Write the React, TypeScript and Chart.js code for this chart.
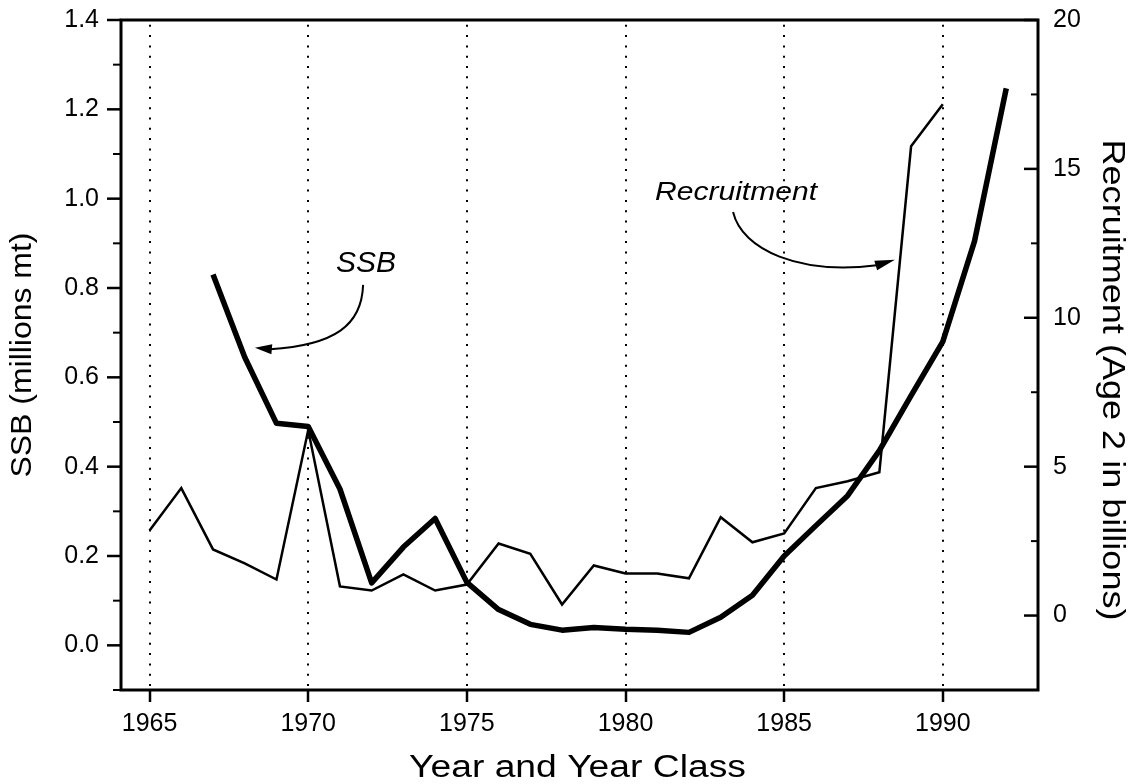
import { useEffect, useRef } from "react";
import { Chart, registerables } from "chart.js";

Chart.register(...registerables);

// ---- data ----
const YEARS = [
  1965, 1966, 1967, 1968, 1969, 1970, 1971, 1972, 1973, 1974, 1975, 1976, 1977, 1978,
  1979, 1980, 1981, 1982, 1983, 1984, 1985, 1986, 1987, 1988, 1989, 1990, 1991, 1992,
];
// SSB, millions mt (left axis)
const SSB = [
  null, null, 0.83, 0.645, 0.497, 0.49, 0.35, 0.14, 0.22, 0.284, 0.141, 0.08, 0.047, 0.034,
  0.04, 0.036, 0.034, 0.029, 0.063, 0.112, 0.2, 0.268, 0.335, 0.436, 0.559, 0.68, 0.905, 1.247,
];
// Recruitment, age 2 in billions (right axis)
const RECRUITMENT = [
  2.86, 4.28, 2.22, 1.75, 1.21, 6.23, 0.98, 0.84, 1.38, 0.84, 1.04, 2.42, 2.07, 0.37,
  1.68, 1.41, 1.41, 1.25, 3.3, 2.46, 2.76, 4.28, 4.51, 4.81, 15.76, 17.17, null, null,
];
const X_TICKS = [1965, 1970, 1975, 1980, 1985, 1990];
const SSB_TICKS = [0, 0.2, 0.4, 0.6, 0.8, 1.0, 1.2, 1.4];
const SSB_MINOR = [-0.1, 0.1, 0.3, 0.5, 0.7, 0.9, 1.1, 1.3];
const REC_TICKS = [0, 5, 10, 15, 20];
const REC_MINOR = [2.5, 7.5, 12.5, 17.5];

const X_TITLE = "Year and Year Class";
const Y_TITLE = "SSB (millions mt)";
const Y1_TITLE = "Recruitment (Age 2 in billions)";
const SSB_LABEL = "SSB";
const REC_LABEL = "Recruitment";

// annotation anchors in data units (x: year, y: left axis)
const SSB_LABEL_POS = { x: 1970.875, y: 0.836 };
const SSB_ARROW = [
  { x: 1971.73, y: 0.807 },
  { x: 1971.69, y: 0.717 },
  { x: 1970.84, y: 0.672 },
  { x: 1968.8, y: 0.663 },
  { x: 1968.32, y: 0.666 },
];
const REC_LABEL_POS = { x: 1980.93, y: 0.997 };
const REC_ARROW = [
  { x: 1983.39, y: 0.97 },
  { x: 1983.67, y: 0.885 },
  { x: 1985.5, y: 0.829 },
  { x: 1987.92, y: 0.851 },
  { x: 1988.49, y: 0.863 },
];

const FONT = "'Liberation Sans', Arial, Helvetica, sans-serif";

function drawStretched(
  ctx: CanvasRenderingContext2D,
  text: string,
  x: number,
  y: number,
  angle: number,
  font: string,
  target: number,
  align: CanvasTextAlign,
  baseline: CanvasTextBaseline
) {
  ctx.save();
  ctx.font = font;
  ctx.textAlign = align;
  ctx.textBaseline = baseline;
  ctx.fillStyle = "#000";
  const w = ctx.measureText(text).width;
  ctx.translate(x, y);
  ctx.rotate(angle);
  ctx.scale(target > 0 ? target / w : 1, 1);
  ctx.fillText(text, 0, 0);
  ctx.restore();
}

function drawArrow(ctx: CanvasRenderingContext2D, pts: { x: number; y: number }[], len: number, half: number) {
  const [p0, c1, c2, p3, tip] = pts;
  ctx.save();
  ctx.strokeStyle = "#000";
  ctx.fillStyle = "#000";
  ctx.lineWidth = 2;
  ctx.setLineDash([]);
  ctx.beginPath();
  ctx.moveTo(p0.x, p0.y);
  ctx.bezierCurveTo(c1.x, c1.y, c2.x, c2.y, p3.x, p3.y);
  ctx.stroke();
  const dx = tip.x - p3.x;
  const dy = tip.y - p3.y;
  const d = Math.hypot(dx, dy) || 1;
  const ux = dx / d;
  const uy = dy / d;
  const bx = tip.x - ux * len;
  const by = tip.y - uy * len;
  ctx.beginPath();
  ctx.moveTo(tip.x, tip.y);
  ctx.lineTo(bx - uy * half, by + ux * half);
  ctx.lineTo(bx + uy * half, by - ux * half);
  ctx.closePath();
  ctx.fill();
  ctx.restore();
}

const framePlugin = {
  id: "framePlugin",
  beforeDatasetsDraw(chart: any) {
    const { ctx, chartArea: a, scales } = chart;
    ctx.save();
    ctx.strokeStyle = "#000";
    ctx.lineWidth = 2;
    ctx.setLineDash([2, 8.3]);
    for (const v of X_TICKS) {
      const x = Math.round(scales.x.getPixelForValue(v));
      ctx.beginPath();
      ctx.moveTo(x, a.bottom - 4);
      ctx.lineTo(x, a.top + 2);
      ctx.stroke();
    }
    ctx.restore();
  },
  afterDatasetsDraw(chart: any) {
    const { ctx, chartArea: a, scales } = chart;
    const sx = scales.x;
    const sy = scales.y;
    const sy1 = scales.y1;
    ctx.save();
    ctx.strokeStyle = "#000";
    ctx.setLineDash([]);
    // frame
    ctx.lineWidth = 3;
    ctx.strokeRect(a.left, a.top, a.right - a.left, a.bottom - a.top);
    // left major ticks (outward)
    ctx.lineWidth = 2.5;
    for (const v of SSB_TICKS) {
      const y = sy.getPixelForValue(v);
      ctx.beginPath();
      ctx.moveTo(a.left - 14, y);
      ctx.lineTo(a.left, y);
      ctx.stroke();
    }
    ctx.lineWidth = 2;
    for (const v of SSB_MINOR) {
      const y = sy.getPixelForValue(v);
      ctx.beginPath();
      ctx.moveTo(a.left - 8, y);
      ctx.lineTo(a.left, y);
      ctx.stroke();
    }
    // right ticks (inward)
    ctx.lineWidth = 2.5;
    for (const v of REC_TICKS) {
      const y = sy1.getPixelForValue(v);
      ctx.beginPath();
      ctx.moveTo(a.right - 14, y);
      ctx.lineTo(a.right, y);
      ctx.stroke();
    }
    ctx.lineWidth = 2;
    for (const v of REC_MINOR) {
      const y = sy1.getPixelForValue(v);
      ctx.beginPath();
      ctx.moveTo(a.right - 7, y);
      ctx.lineTo(a.right, y);
      ctx.stroke();
    }
    // bottom ticks (outward)
    ctx.lineWidth = 2.5;
    for (const v of X_TICKS) {
      const x = Math.round(sx.getPixelForValue(v));
      ctx.beginPath();
      ctx.moveTo(x, a.bottom);
      ctx.lineTo(x, a.bottom + 12);
      ctx.stroke();
    }
    ctx.restore();

    const P = (p: { x: number; y: number }) => ({ x: sx.getPixelForValue(p.x), y: sy.getPixelForValue(p.y) });

    // annotations
    const sl = P(SSB_LABEL_POS);
    drawStretched(ctx, SSB_LABEL, sl.x, sl.y, 0, `italic 30px ${FONT}`, 0, "left", "alphabetic");
    drawArrow(ctx, SSB_ARROW.map(P), 17, 5);
    const rl = P(REC_LABEL_POS);
    drawStretched(ctx, REC_LABEL, rl.x, rl.y, 0, `italic 26px ${FONT}`, 162, "left", "alphabetic");
    drawArrow(ctx, REC_ARROW.map(P), 20, 5);

    // axis titles
    drawStretched(ctx, X_TITLE, (a.left + a.right) / 2 - 2, a.bottom + 87, 0, `31px ${FONT}`, 337, "center", "alphabetic");
    drawStretched(ctx, Y_TITLE, 23, (a.top + a.bottom) / 2, -Math.PI / 2, `30px ${FONT}`, 245, "center", "middle");
    drawStretched(ctx, Y1_TITLE, a.right + 74, (a.top + a.bottom) / 2 + 25, Math.PI / 2, `32px ${FONT}`, 481, "center", "middle");
  },
};

const noPad = (s: any) => {
  s.paddingTop = 0;
  s.paddingBottom = 0;
  s.paddingLeft = 0;
  s.paddingRight = 0;
};

export default function App() {
  const ref = useRef<HTMLCanvasElement>(null);
  useEffect(() => {
    const canvas = ref.current;
    if (!canvas) return;
    const ssbPoints = YEARS.map((x, i) => ({ x, y: SSB[i] })).filter((p) => p.y !== null);
    const recPoints = YEARS.map((x, i) => ({ x, y: RECRUITMENT[i] })).filter((p) => p.y !== null);
    const tickFont = { family: FONT, size: 25 };
    const chart = new Chart(canvas, {
      type: "line",
      data: {
        datasets: [
          {
            label: "SSB",
            data: ssbPoints as any,
            yAxisID: "y",
            borderColor: "#000",
            borderWidth: 5.5,
            borderJoinStyle: "round",
            pointRadius: 0,
            fill: false,
            tension: 0,
          },
          {
            label: "Recruitment",
            data: recPoints as any,
            yAxisID: "y1",
            borderColor: "#000",
            borderWidth: 2.5,
            pointRadius: 0,
            fill: false,
            tension: 0,
          },
        ],
      },
      options: {
        animation: false,
        responsive: false,
        devicePixelRatio: 1,
        layout: { padding: { top: 20, left: 0, right: 0, bottom: 0 } },
        plugins: { legend: { display: false }, tooltip: { enabled: false }, title: { display: false } },
        scales: {
          x: {
            type: "linear",
            position: "bottom",
            min: 1964.1,
            max: 1993,
            grid: { display: false, drawTicks: false },
            border: { display: false },
            ticks: {
              font: tickFont,
              color: "#000",
              padding: 19,
              autoSkip: false,
              maxRotation: 0,
              callback: (v: any) => String(v),
            },
            afterBuildTicks: (s: any) => {
              s.ticks = X_TICKS.map((value) => ({ value }));
            },
            afterFit: (s: any) => {
              s.height = 94;
              noPad(s);
            },
          },
          y: {
            type: "linear",
            position: "left",
            min: -0.1,
            max: 1.4,
            grid: { display: false, drawTicks: false },
            border: { display: false },
            ticks: {
              font: tickFont,
              color: "#000",
              padding: 22,
              autoSkip: false,
              callback: (v: any) => Number(v).toFixed(1),
            },
            afterBuildTicks: (s: any) => {
              s.ticks = SSB_TICKS.map((value) => ({ value }));
            },
            afterFit: (s: any) => {
              s.width = 121;
              noPad(s);
            },
          },
          y1: {
            type: "linear",
            position: "right",
            min: -2.5,
            max: 20,
            grid: { display: false, drawTicks: false },
            border: { display: false },
            ticks: {
              font: tickFont,
              color: "#000",
              padding: 15,
              autoSkip: false,
              callback: (v: any) => String(v),
            },
            afterBuildTicks: (s: any) => {
              s.ticks = REC_TICKS.map((value) => ({ value }));
            },
            afterFit: (s: any) => {
              s.width = 99;
              noPad(s);
            },
          },
        },
      },
      plugins: [framePlugin],
    });
    return () => chart.destroy();
  }, []);
  return (
    <div style={{ position: "absolute", left: 0, top: 0, width: 1137, height: 784, background: "#fff" }}>
      <canvas ref={ref} width={1137} height={784} style={{ display: "block", width: 1137, height: 784 }} />
    </div>
  );
}
